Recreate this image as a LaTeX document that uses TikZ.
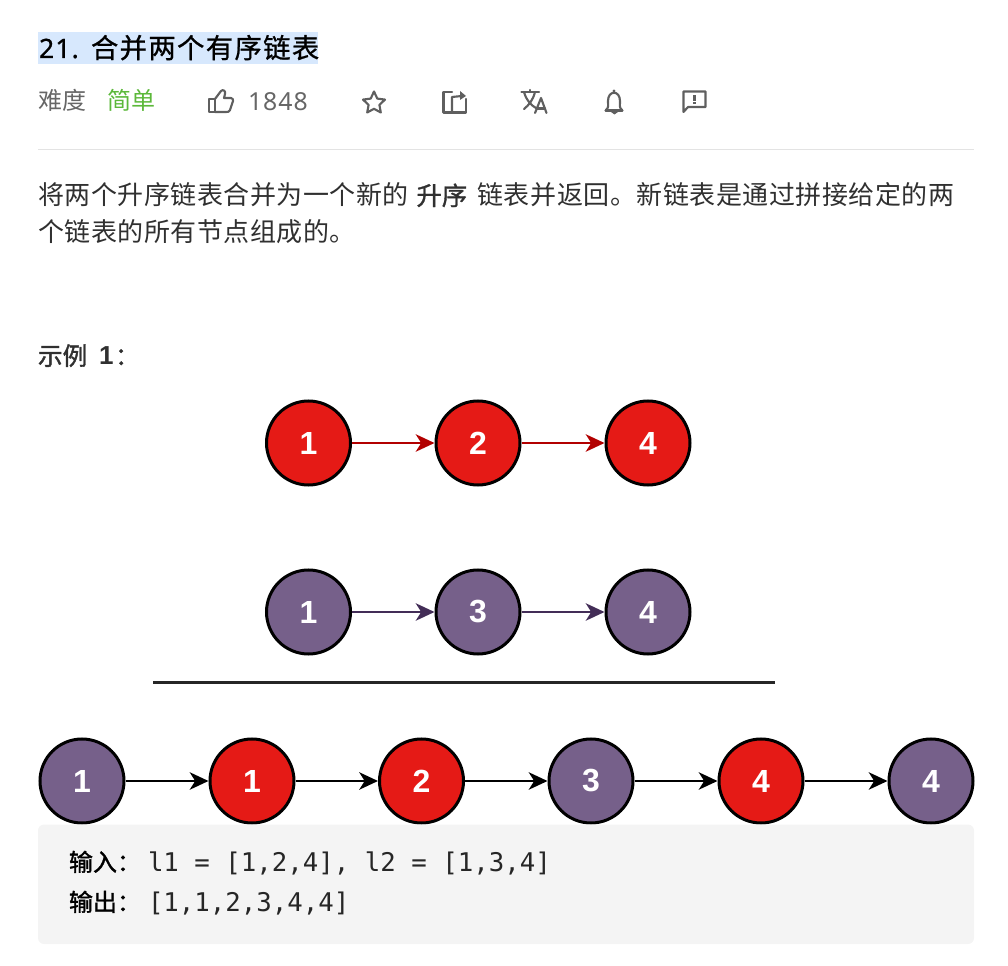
\documentclass[tikz,border=0pt]{standalone}
\usepackage{fontspec}
\usetikzlibrary{arrows.meta}
\setmainfont{Noto Sans CJK SC}
\newfontfamily\titlecjk[LetterSpace=5,FakeBold=0.8]{Noto Sans CJK SC}
\newfontfamily\bodycjk[LetterSpace=2]{Noto Sans CJK SC}
\newfontfamily\medcjk[FakeBold=1.4]{Noto Sans CJK SC}
\newfontfamily\latinf[LetterSpace=4]{Noto Sans}
\newfontfamily\titlelat[FakeBold=0.8,LetterSpace=4]{Noto Sans}
\newfontfamily\labelf{Liberation Sans}
\newfontfamily\exf{Liberation Sans}
\newfontfamily\codef{DejaVu Sans Mono}
\definecolor{redfill}{HTML}{E51A16}
\definecolor{purplefill}{HTML}{76608A}
\definecolor{redline}{HTML}{B20000}
\definecolor{purpleline}{HTML}{432D57}
\definecolor{iconc}{HTML}{5F5F5F}
\definecolor{bodyc}{HTML}{303030}
\definecolor{mutedc}{HTML}{666666}
\definecolor{easyc}{HTML}{5CB83A}
\definecolor{hilite}{HTML}{D7E8FD}
\definecolor{codebg}{HTML}{F4F4F4}
\definecolor{rulec}{HTML}{E3E3E3}
\tikzset{
  x=0.75pt,y=-0.75pt,
  lnode/.style={circle,draw=black,line width=2.25pt,minimum size=63pt,inner sep=0pt,text=white,font=\labelf\bfseries\fontsize{24}{24}\selectfont},
  rednode/.style={lnode,fill=redfill},
  purplenode/.style={lnode,fill=purplefill},
  link/.style={line width=1.9pt,-{Stealth[length=14pt,width=13pt,inset=4pt]}},
  txt/.style={anchor=base west,inner sep=0pt,outer sep=0pt},
  body/.style={txt,text=bodyc,font=\bodycjk\fontsize{19.5}{19.5}\selectfont},
  icon/.style={draw=iconc,line width=1.6pt,line join=round,line cap=round},
}
\begin{document}
\begin{tikzpicture}
\useasboundingbox (0,0) rectangle (1008,966);
% title
\fill[hilite] (38,32) rectangle (318,64);
\node[txt] (title) at (39,58) {\titlelat\fontsize{20}{20}\selectfont 21.};
\node[txt] (titlecn) at (91,58) {\titlecjk\fontsize{20.5}{20.5}\selectfont 合并两个有序链表};
% meta row
\node[txt,text=mutedc] (diff) at (38,110) {\fontsize{18}{18}\selectfont 难度};
\node[txt,text=easyc] (easy) at (107,110) {\fontsize{18}{18}\selectfont 简单};
\node[txt,text=mutedc] (likes) at (248,111) {\latinf\fontsize{18.6}{18.6}\selectfont 1848};
% thumb
\draw[icon] (209,99) rectangle (215,112);
\draw[icon] (215,99) -- (221,91) .. controls (223,89) and (226,91) .. (225,94) -- (224,98) -- (231,98) .. controls (233,98) and (233,100) .. (233,101) -- (230,110) .. controls (229,112) and (228,112) .. (226,112) -- (215,112);
% star
\draw[icon] (374,91.5) -- (377.3,98.6) -- (385,99.6) -- (379.4,104.9) -- (380.8,112.5) -- (374,108.8) -- (367.2,112.5) -- (368.6,104.9) -- (363,99.6) -- (370.7,98.6) -- cycle;
% share
\draw[icon] (452,92) -- (443.5,92) -- (443.5,112.5) -- (466,112.5) -- (466,99);
\draw[icon] (452,112.5) -- (452,97) -- (462,96);
\fill[iconc] (460,91) -- (466,96) -- (460,100) -- cycle;
% translate
\draw[icon] (521.5,92) -- (539,92);
\draw[icon] (530,90) -- (530,92);
\draw[icon] (524,92) .. controls (526,100) and (532,106) .. (536,108);
\draw[icon] (535,92) .. controls (533,100) and (529,105) .. (524,109);
\draw[icon] (535,113) -- (541,98) -- (546.5,113);
\draw[icon] (537,108.5) -- (545,108.5);
% bell
\draw[icon] (606,110) .. controls (609,108) and (608,104) .. (608,101) .. controls (608,90) and (620,90) .. (620,101) .. controls (620,104) and (619,108) .. (622,110);
\draw[icon] (605.5,110.5) -- (622.5,110.5);
\fill[iconc] (611,112) -- (618,112) -- (614.5,114.5) -- cycle;
\fill[iconc] (614,91) circle (1.6);
% report
\draw[icon] (683.5,112) -- (683.5,91.5) -- (705.5,91.5) -- (705.5,107) -- (688,107) -- cycle;
\fill[iconc] (693.3,95) rectangle (695.7,101);
\fill[iconc] (693.3,102) rectangle (695.7,104.5);
% rule
\draw[rulec,line width=1.1pt] (38,149.5) -- (974,149.5);
% paragraph
\node[body] (p1a) at (38,205) {将两个升序链表合并为一个新的};
\node[body,font=\medcjk\fontsize{19}{19}\selectfont] (p1b) at (416.5,205) {升序};
\node[body] (p1c) at (477.5,205) {链表并返回。新链表是通过拼接给定的两};
\node[body] (p2) at (38,242) {个链表的所有节点组成的。};
\node[body,font=\medcjk\fontsize{18.5}{18.5}\selectfont] (ex) at (38,365) {示例};
\node[txt,text=bodyc,font=\exf\bfseries\fontsize{19.5}{19.5}\selectfont] (exn) at (99,365) {1};
\node[body,font=\medcjk\fontsize{18.5}{18.5}\selectfont] (exc) at (115,365) {：};
% row 1
\node[rednode] (a1) at (308.5,443) {1};
\node[rednode] (a2) at (478,443) {2};
\node[rednode] (a3) at (648,443) {4};
\draw[link,redline] (a1) -- (a2);
\draw[link,redline] (a2) -- (a3);
% row 2
\node[purplenode] (b1) at (308.5,612) {1};
\node[purplenode] (b2) at (478,612) {3};
\node[purplenode] (b3) at (648,612) {4};
\draw[link,purpleline] (b1) -- (b2);
\draw[link,purpleline] (b2) -- (b3);
% divider
\draw[black!85,line width=2.25pt] (153,682) -- (775,682);
% row 3
\node[purplenode] (c1) at (82,781) {1};
\node[rednode] (c2) at (252,781) {1};
\node[rednode] (c3) at (421.5,781) {2};
\node[purplenode] (c4) at (591,781) {3};
\node[rednode] (c5) at (761,781) {4};
\node[purplenode] (c6) at (931,781) {4};
\foreach \p/\q in {c1/c2,c2/c3,c3/c4,c4/c5,c5/c6}
  \draw[link,black] (\p) -- (\q);
% code box
\fill[codebg,rounded corners=4.5pt] (38,824.5) rectangle (974,944);
\node[txt,text=black] (in1) at (69,871) {\medcjk\fontsize{18}{18}\selectfont 输入：};
\node[txt,text=black!85] (in2) at (148,871) {\codef\fontsize{19.3}{19.3}\selectfont l1 = [1,2,4], l2 = [1,3,4]};
\node[txt,text=black] (out1) at (69,911) {\medcjk\fontsize{18}{18}\selectfont 输出：};
\node[txt,text=black!85] (out2) at (148,911) {\codef\fontsize{19.3}{19.3}\selectfont [1,1,2,3,4,4]};
\end{tikzpicture}
\end{document}
